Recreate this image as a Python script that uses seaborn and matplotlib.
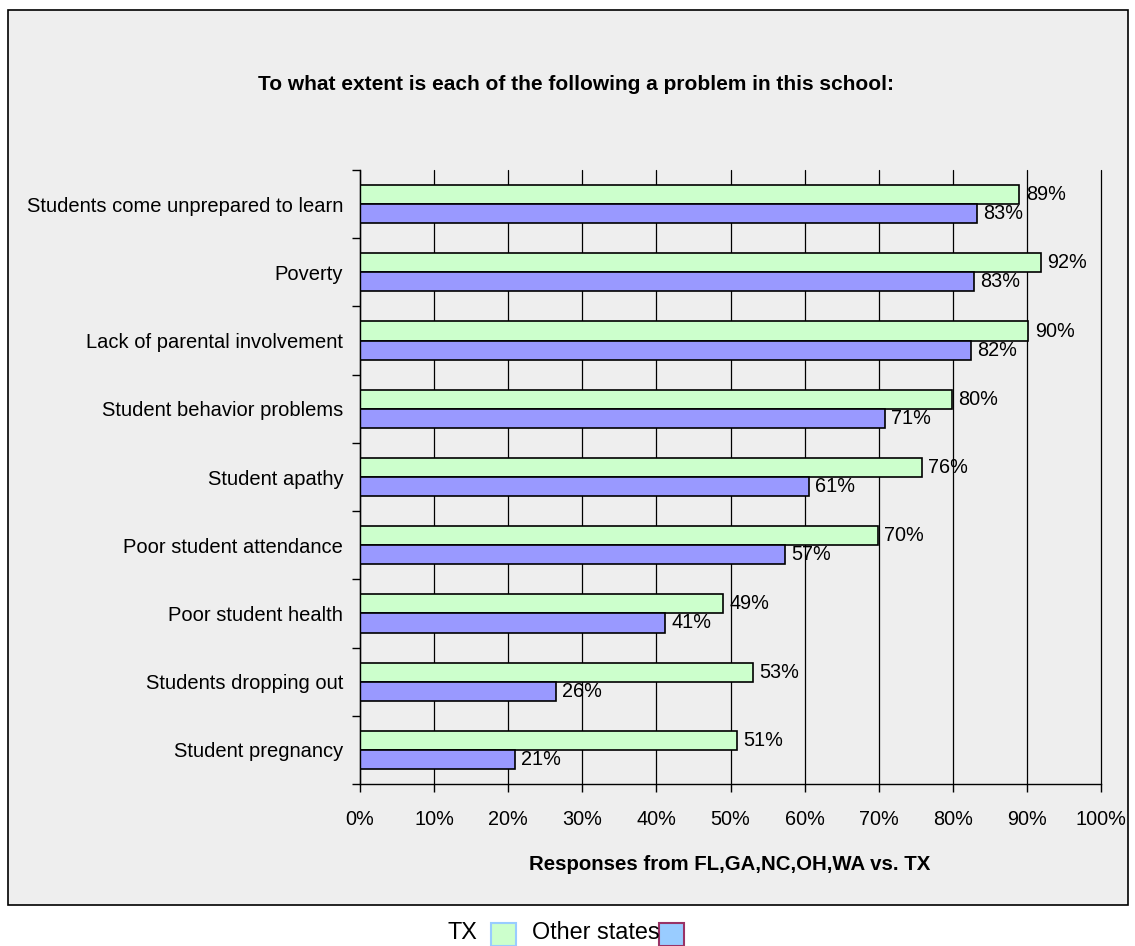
import numpy as np
import pandas as pd
import matplotlib
matplotlib.use("Agg")
import matplotlib.pyplot as plt
from matplotlib.patches import Rectangle
import seaborn as sns

categories = [
    "Students come unprepared to learn",
    "Poverty",
    "Lack of parental involvement",
    "Student behavior problems",
    "Student apathy",
    "Poor student attendance",
    "Poor student health",
    "Students dropping out",
    "Student pregnancy",
]
tx_values = [89.0, 91.9, 90.2, 79.9, 75.8, 69.9, 49.0, 53.0, 50.9]
other_values = [83.3, 82.8, 82.4, 70.8, 60.6, 57.4, 41.2, 26.4, 20.9]
series_names = ["TX", "Other states"]
x_ticks = [0, 10, 20, 30, 40, 50, 60, 70, 80, 90, 100]
x_tick_labels = ["0%", "10%", "20%", "30%", "40%", "50%", "60%", "70%", "80%", "90%", "100%"]

title = "To what extent is each of the following a problem in this school:"
xlabel = "Responses from FL,GA,NC,OH,WA vs. TX"

sns.set_theme(style="white")
plt.rcParams["font.family"] = ["Liberation Sans", "DejaVu Sans"]
plt.rcParams["text.color"] = "black"
plt.rcParams["xtick.color"] = "black"
plt.rcParams["ytick.color"] = "black"
plt.rcParams["xtick.labelcolor"] = "black"
plt.rcParams["ytick.labelcolor"] = "black"

df = pd.DataFrame({
    "category": categories * 2,
    "value": tx_values + other_values,
    "series": [series_names[0]] * len(categories) + [series_names[1]] * len(categories),
})

W, H = 1135, 946
fig = plt.figure(figsize=(W / 100, H / 100), dpi=100)
fig.patch.set_facecolor("white")

# chart area background
bg = Rectangle((8 / W, 1 - 905 / H), 1120 / W, 895 / H, transform=fig.transFigure,
               facecolor="#EEEEEE", edgecolor="black", linewidth=1.2, zorder=-10)
fig.patches.append(bg)

ax = fig.add_axes([360 / W, 1 - 784 / H, 741 / W, 614 / H])
ax.set_zorder(5)
ax.set_facecolor("#EEEEEE")
ax.set_axisbelow(True)

green = "#CCFFCC"
blue = "#9999FF"
sns.barplot(data=df, y="category", x="value", hue="series", hue_order=series_names,
            order=categories, orient="h", palette=[green, blue], width=0.56,
            edgecolor="black", linewidth=1.2, ax=ax, legend=False, saturation=1)

# value labels
for cont in ax.containers:
    for rect in cont:
        v = rect.get_width()
        ax.annotate(f"{int(round(v))}%", (v, rect.get_y() + rect.get_height() / 2),
                    xytext=(4.5, 0), textcoords="offset points", ha="left", va="center",
                    fontsize=14.3, color="black")

ax.set_xlim(0, 100)
ax.set_ylim(len(categories) - 0.5, -0.5)
ax.set_xticks(x_ticks)
ax.set_xticklabels(x_tick_labels, fontsize=14.3)
ax.set_yticks(range(len(categories)))
ax.set_yticklabels(categories, fontsize=14.5)
ax.set_yticks(np.arange(-0.5, len(categories)), minor=True)
ax.tick_params(axis="y", which="major", length=0, pad=12)
ax.tick_params(axis="y", which="minor", length=5.5, width=1, color="black", direction="out", left=True)
ax.tick_params(axis="x", which="major", length=5.8, width=1, color="black", direction="out", bottom=True, pad=13)
ax.grid(axis="x", color="black", linewidth=0.9)
ax.grid(axis="y", visible=False)
for gl in ax.get_xgridlines():
    gl.set_clip_on(False)
for s in ["top", "right"]:
    ax.spines[s].set_visible(False)
for s in ["left", "bottom"]:
    ax.spines[s].set_color("black")
    ax.spines[s].set_linewidth(1.0)
ax.set_xlabel("")
ax.set_ylabel("")

fig.text(576 / W, 1 - 84 / H, title, ha="center", va="center", fontsize=15, fontweight="bold")
fig.text(730 / W, 1 - 864 / H, xlabel, ha="center", va="center", fontsize=14.7, fontweight="bold")

# legend
fig.text(447 / W, 1 - 932 / H, "TX", ha="left", va="center", fontsize=16.8)
fig.patches.append(Rectangle((491 / W, 1 - 946 / H), 25 / W, 23 / H, transform=fig.transFigure,
                             facecolor="#CCFFCC", edgecolor="#99CCFF", linewidth=1.5))
fig.text(532 / W, 1 - 932 / H, "Other states", ha="left", va="center", fontsize=16.8)
fig.patches.append(Rectangle((659 / W, 1 - 946 / H), 25 / W, 23 / H, transform=fig.transFigure,
                             facecolor="#99CCFF", edgecolor="#993366", linewidth=1.5))

fig.savefig("out.png", dpi=100)
